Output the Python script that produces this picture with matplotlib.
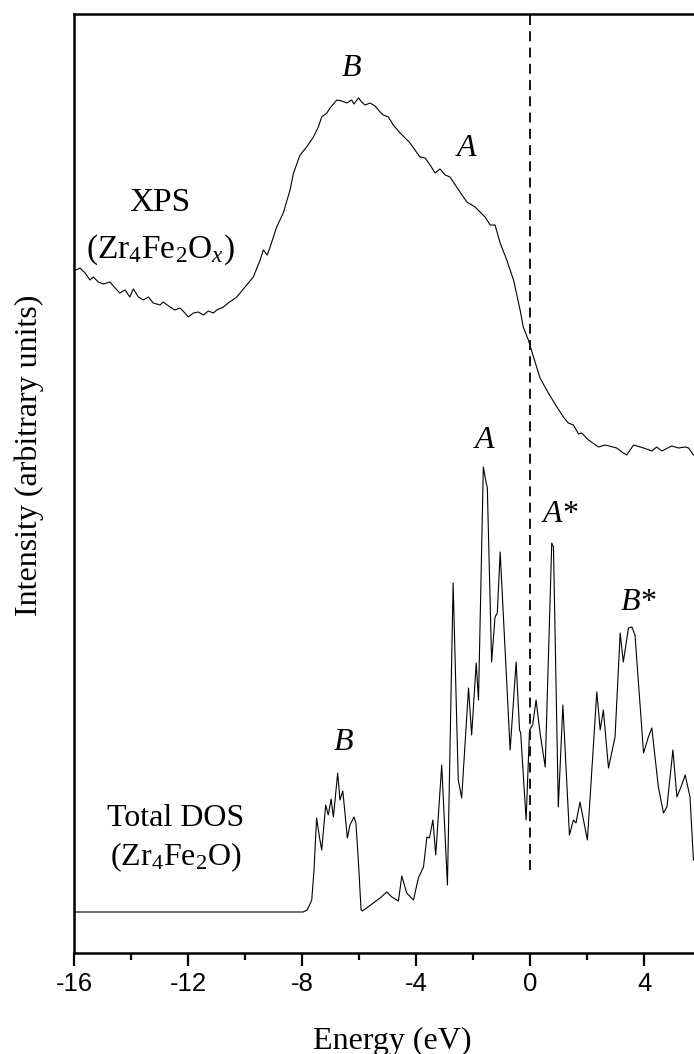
import matplotlib
matplotlib.use("Agg")
import matplotlib.pyplot as plt
from matplotlib.ticker import MultipleLocator

plt.rcParams['mathtext.fontset'] = 'custom'
plt.rcParams['mathtext.rm'] = 'Liberation Serif'
plt.rcParams['mathtext.it'] = 'Liberation Serif:italic'

# ---------------- data (energy in eV, intensity in arbitrary units) ----------------
xps_energy = [-16.00, -15.93, -15.79, -15.61, -15.44, -15.32, -15.15, -14.97, -14.74, -14.56,
              -14.39, -14.21, -14.04, -13.92, -13.74, -13.57, -13.39, -13.22, -12.98, -12.87,
              -12.63, -12.46, -12.28, -12.11, -11.99, -11.81, -11.64, -11.46, -11.29, -11.11,
              -10.99, -10.76, -10.59, -10.29, -10.00, -9.71, -9.47, -9.36, -9.22, -9.12,
              -8.89, -8.66, -8.42, -8.30, -8.07, -7.84, -7.60, -7.43, -7.31, -7.13,
              -7.02, -6.78, -6.61, -6.43, -6.26, -6.18, -6.02, -5.91, -5.79, -5.61,
              -5.44, -5.26, -5.15, -4.97, -4.80, -4.56, -4.21, -4.04, -3.86, -3.68,
              -3.51, -3.33, -3.16, -2.98, -2.81, -2.46, -2.22, -1.93, -1.58, -1.40,
              -1.23, -1.05, -0.82, -0.58, -0.35, -0.24, -0.06, 0.12, 0.35, 0.64,
              0.94, 1.17, 1.34, 1.52, 1.70, 1.81, 2.05, 2.40, 2.63, 3.04,
              3.27, 3.39, 3.63, 3.98, 4.27, 4.44, 4.62, 4.97, 5.20, 5.44,
              5.56, 5.73]
xps_intensity = [684, 683, 685, 680, 673, 676, 671, 669, 671, 665,
                 660, 663, 656, 664, 656, 653, 656, 650, 648, 651,
                 646, 643, 645, 640, 636, 640, 641, 638, 642, 640,
                 643, 646, 650, 656, 666, 676, 693, 703, 698, 706,
                 726, 740, 763, 780, 798, 806, 816, 826, 836, 840,
                 845, 853, 852, 850, 853, 849, 855, 851, 848, 850,
                 847, 841, 838, 836, 828, 820, 810, 803, 796, 795,
                 788, 780, 784, 778, 776, 761, 751, 746, 736, 728,
                 728, 710, 693, 673, 643, 626, 613, 596, 575, 560,
                 546, 536, 530, 528, 519, 520, 513, 506, 508, 505,
                 500, 498, 508, 505, 502, 506, 502, 507, 505, 506,
                 505, 498]

dos_energy = [-16.00, -7.96, -7.82, -7.66, -7.58, -7.49, -7.39, -7.31, -7.17, -7.08,
              -6.98, -6.90, -6.75, -6.67, -6.57, -6.41, -6.32, -6.18, -6.11, -6.02,
              -5.93, -5.88, -5.26, -5.03, -4.85, -4.62, -4.50, -4.33, -4.09, -3.92,
              -3.74, -3.62, -3.53, -3.41, -3.31, -3.10, -2.90, -2.70, -2.52, -2.40,
              -2.16, -2.05, -1.89, -1.81, -1.64, -1.54, -1.50, -1.35, -1.23, -1.15,
              -1.05, -0.70, -0.49, -0.37, -0.33, -0.14, -0.02, 0.09, 0.21, 0.35,
              0.53, 0.76, 0.82, 0.99, 1.15, 1.38, 1.52, 1.61, 1.75, 2.01,
              2.34, 2.46, 2.57, 2.75, 2.98, 3.16, 3.27, 3.45, 3.57, 3.68,
              3.98, 4.15, 4.27, 4.50, 4.68, 4.80, 5.01, 5.15, 5.32, 5.44,
              5.61, 5.73]
dos_intensity = [41, 41, 43, 53, 83, 135, 116, 103, 148, 138,
                 154, 136, 180, 153, 162, 115, 128, 136, 130, 90,
                 43, 42, 55, 61, 56, 52, 77, 60, 53, 75,
                 86, 116, 115, 133, 98, 188, 68, 370, 173, 155,
                 265, 218, 290, 253, 486, 470, 465, 291, 336, 340,
                 401, 203, 291, 223, 220, 133, 223, 228, 253, 220,
                 186, 410, 406, 146, 248, 118, 133, 130, 151, 113,
                 261, 223, 243, 185, 216, 320, 291, 325, 326, 318,
                 200, 216, 225, 166, 140, 146, 203, 156, 168, 178,
                 156, 93]

fermi_energy = 0.0
xticks = [-16, -12, -8, -4, 0, 4]

# ---------------- figure ----------------
fig = plt.figure(figsize=(6.94, 10.54), dpi=100)
ax = fig.add_axes([74 / 694, 101 / 1054, 620 / 694, 939 / 1054])

ax.plot(xps_energy, xps_intensity, color='black', lw=0.8)
ax.plot(dos_energy, dos_intensity, color='black', lw=0.8)
ax.plot([fermi_energy, fermi_energy], [83, 939], color='black', lw=1.3,
        linestyle=(0, (5.5, 3.5)))

ax.set_xlim(-16, 5.75)
ax.set_ylim(0, 939)

for side in ['left', 'bottom', 'top']:
    ax.spines[side].set_linewidth(1.8)
ax.spines['right'].set_visible(False)

ax.set_yticks([])
ax.set_xticks(xticks)
ax.set_xticklabels([str(t) for t in xticks], fontfamily='Liberation Sans', fontsize=18.5)
ax.xaxis.set_minor_locator(MultipleLocator(2))
ax.tick_params(axis='x', which='major', direction='out', length=9, width=1.6, pad=5)
ax.tick_params(axis='x', which='minor', direction='out', length=5, width=1.6)

serif = 'Liberation Serif'
fig.text(392 / 694, 1 - 1049 / 1054, 'Energy (eV)', family=serif, fontsize=23,
         ha='center', va='baseline')
fig.text(29 / 694, 1 - 455 / 1054, 'Intensity (arbitrary units)', family=serif,
         fontsize=23, ha='center', va='center', rotation=90)

# annotations
ax.text(-6.28, 885, 'B', family=serif, style='italic', fontsize=23, ha='center', va='center')
ax.text(-2.22, 805, 'A', family=serif, style='italic', fontsize=23, ha='center', va='center')
ax.text(-12.98, 750, 'XPS', family=serif, fontsize=24, ha='center', va='center')
ax.text(-12.98, 703, r'(Zr$_4$Fe$_2$O$_x$)', family=serif, fontsize=24, ha='center', va='center')
ax.text(-1.61, 513, 'A', family=serif, style='italic', fontsize=23, ha='center', va='center')
ax.text(1.05, 438, 'A*', family=serif, style='italic', fontsize=23, ha='center', va='center')
ax.text(3.79, 351, 'B*', family=serif, style='italic', fontsize=23, ha='center', va='center')
ax.text(-6.56, 211, 'B', family=serif, style='italic', fontsize=23, ha='center', va='center')
ax.text(-12.42, 135, 'Total DOS', family=serif, fontsize=23, ha='center', va='center')
ax.text(-12.42, 96, r'(Zr$_4$Fe$_2$O)', family=serif, fontsize=23, ha='center', va='center')

fig.savefig('out.png', dpi=100)
